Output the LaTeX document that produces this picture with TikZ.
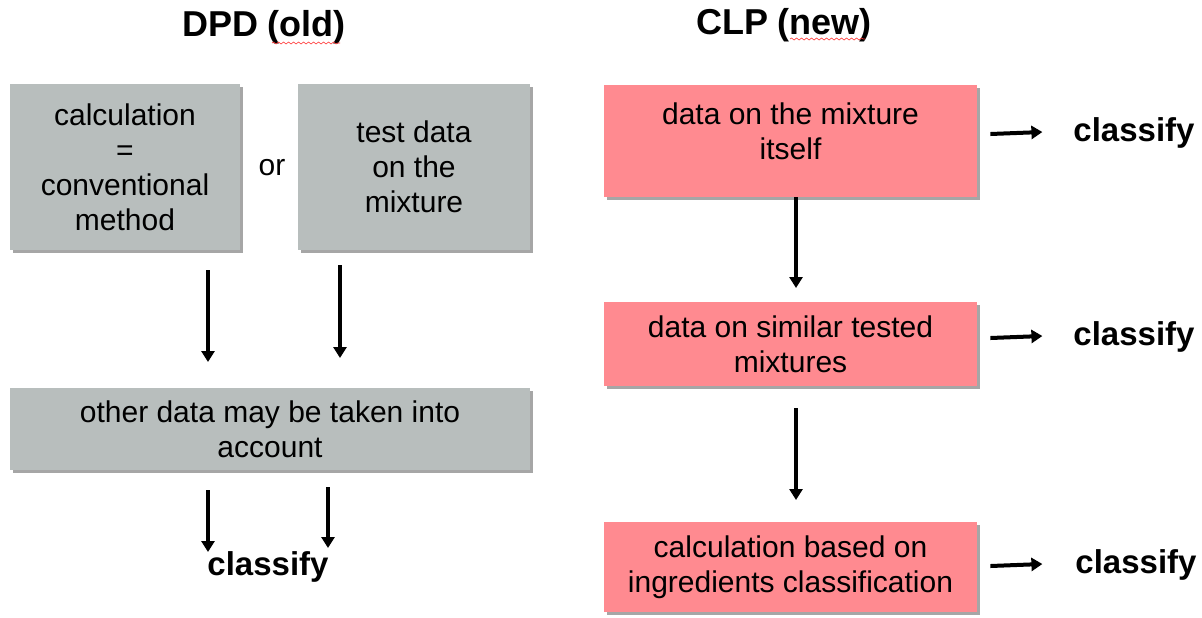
\documentclass[tikz,border=0pt]{standalone}
\usepackage{fontspec}
\setmainfont{Liberation Sans}
\usetikzlibrary{arrows.meta,shadows,decorations.pathmorphing}
\definecolor{oldgray}{HTML}{B8BEBD}
\definecolor{newpink}{HTML}{FF8A90}
\tikzset{
    box/.style={fill=#1, align=center, inner sep=0pt,
        font=\fontsize{15}{17.5}\selectfont,
        drop shadow={shadow xshift=1.5pt, shadow yshift=-1.5pt, opacity=0.35, fill=black}},
    boxtext/.style={align=center, inner sep=0pt, font=\fontsize{15}{17.5}\selectfont},
    title/.style={font=\fontsize{18}{21}\selectfont\bfseries},
    result/.style={font=\fontsize{16.5}{19}\selectfont\bfseries},
    arr/.style={-{Triangle[length=5.5pt,width=6.5pt]}, line width=2pt},
    squiggle/.style={red!80, line width=0.3pt, decorate,
        decoration={snake, amplitude=0.5pt, segment length=2.5pt}}
}
\begin{document}
\begin{tikzpicture}[x=0.5pt, y=-0.5pt]
    \useasboundingbox (0,0) rectangle (1202,617);
    % titles
    \node[title] (dpd) at (264,27) {DPD (old)};
    \node[title] (clp) at (784,25) {CLP (new)};
    \draw[squiggle] (272,43) -- (340,43);
    \draw[squiggle] (790,39) -- (865,39);
    % old way
    \node[box=oldgray, minimum width=115pt, minimum height=83pt] (calc) at (125,167)
        {calculation\\=\\conventional\\method};
    \node[box=oldgray, minimum width=116pt, minimum height=83pt] (test) at (414,167)
        {test data\\on the\\mixture};
    \node[boxtext] (or) at (272,168) {or};
    \node[box=oldgray, minimum width=260pt, minimum height=41pt] (other) at (270,429)
        {other data may be taken into\\account};
    \node[result] (cl0) at (268,567) {classify};
    \coordinate (a1) at (208,270);
    \coordinate (a2) at (340,265);
    \coordinate (b1) at (208,490);
    \coordinate (b2) at (328,487);
    \draw[arr] (a1) -- (a1 |- 0,362);
    \draw[arr] (a2) -- (a2 |- 0,358);
    \draw[arr] (b1) -- (b1 |- 0,552);
    \draw[arr] (b2) -- (b2 |- 0,548);
    % new way
    \node[box=newpink, minimum width=186.5pt, minimum height=56pt] (mix) at (790.5,141) {};
    \node[boxtext] (mixtxt) at (790.5,131) {data on the mixture\\itself};
    \node[box=newpink, minimum width=186.5pt, minimum height=42pt] (sim) at (790.5,344)
        {data on similar tested\\mixtures};
    \node[box=newpink, minimum width=186.5pt, minimum height=45pt] (ingr) at (790.5,567)
        {calculation based on\\ingredients classification};
    \node[result] (cl1) at (1134,133) {classify};
    \node[result] (cl2) at (1134,337) {classify};
    \node[result] (cl3) at (1136,565) {classify};
    \draw[arr] (mix.south -| 796,0) -- (796,288);
    \draw[arr] (796,408) -- (796,500);
    \draw[arr] (mix.east |- cl1) ++(13,1) -- ([xshift=-12pt,yshift=0.5pt]cl1.west);
    \draw[arr] (sim.east |- cl2) ++(13,1) -- ([xshift=-12pt,yshift=0.5pt]cl2.west);
    \draw[arr] (ingr.east |- cl3) ++(13,1) -- ([xshift=-13pt,yshift=0.5pt]cl3.west);
\end{tikzpicture}
\end{document}
